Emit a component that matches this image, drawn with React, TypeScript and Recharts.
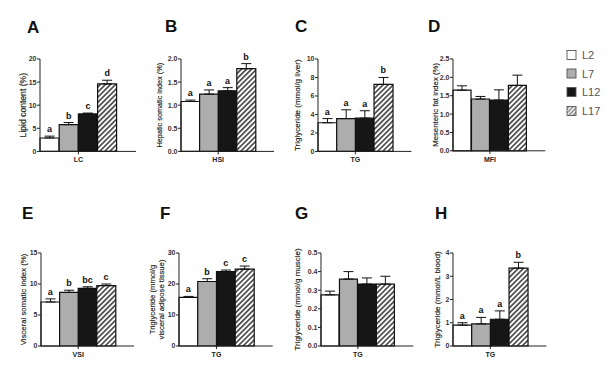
import React from 'react';
import { ComposedChart, Bar, Cell, XAxis, YAxis, ErrorBar, Line, LabelList } from 'recharts';

const FONT = '"Liberation Sans", Arial, Helvetica, sans-serif';

const groups = ['L2', 'L7', 'L12', 'L17'];
const groupColors = ['#ffffff', '#adadad', '#161616', 'hatch'];

// A – lipid content
const lcMeans = [2.9, 5.8, 8.1, 14.6];
const lcErrors = [0.4, 0.45, 0.2, 0.8];
const lcLetters = ['a', 'b', 'c', 'd'];
const lcTicks = [0, 5, 10, 15, 20];

// B – hepatic somatic index
const hsiMeans = [1.08, 1.24, 1.31, 1.79];
const hsiErrors = [0.03, 0.09, 0.07, 0.11];
const hsiLetters = ['a', 'a', 'a', 'b'];
const hsiTicks = [0, 0.5, 1, 1.5, 2];

// C – liver triglyceride
const tgLiverMeans = [3.1, 3.55, 3.6, 7.25];
const tgLiverErrors = [0.45, 0.95, 0.8, 0.75];
const tgLiverLetters = ['a', 'a', 'a', 'b'];
const tgLiverTicks = [0, 2, 4, 6, 8, 10];

// D – mesenteric fat index
const mfiMeans = [1.65, 1.41, 1.38, 1.78];
const mfiErrors = [0.12, 0.07, 0.28, 0.28];
const mfiTicks = [0, 0.5, 1, 1.5, 2, 2.5];

// E – visceral somatic index
const vsiMeans = [7.1, 8.65, 9.3, 9.75];
const vsiErrors = [0.5, 0.35, 0.25, 0.25];
const vsiLetters = ['a', 'b', 'bc', 'c'];
const vsiTicks = [0, 5, 10, 15];

// F – visceral adipose triglyceride
const tgAdiposeMeans = [15.7, 20.8, 24.0, 24.8];
const tgAdiposeErrors = [0.3, 0.9, 0.5, 1.0];
const tgAdiposeLetters = ['a', 'b', 'c', 'c'];
const tgAdiposeTicks = [0, 10, 20, 30];

// G – muscle triglyceride
const tgMuscleMeans = [0.275, 0.36, 0.333, 0.333];
const tgMuscleErrors = [0.02, 0.04, 0.033, 0.042];
const tgMuscleTicks = [0, 0.1, 0.2, 0.3, 0.4, 0.5];

// H – blood triglyceride
const tgBloodMeans = [0.9, 0.95, 1.15, 3.35];
const tgBloodErrors = [0.1, 0.28, 0.36, 0.25];
const tgBloodLetters = ['a', 'a', 'a', 'b'];
const tgBloodTicks = [0, 1, 2, 3, 4];

const legendLabels = ['L2', 'L7', 'L12', 'L17'];

type PanelCfg = {
  id: string;
  letter: string;
  letterX: number;
  letterY: number;
  axisX: number;
  right: number;
  top: number;
  bottom: number;
  labelX: number[];
  labelLines: string[];
  labelSize: number;
  cat: string;
  means: number[];
  errors: number[];
  letters?: string[];
  ticks: number[];
  decimals: number;
};

const panels: PanelCfg[] = [
  { id: 'A', letter: 'A', letterX: 27, letterY: 33, axisX: 40, right: 136, top: 59.3, bottom: 151.7, labelX: [23], labelLines: ['Lipid  content (%)'], labelSize: 8.6, cat: 'LC', means: lcMeans, errors: lcErrors, letters: lcLetters, ticks: lcTicks, decimals: 0 },
  { id: 'B', letter: 'B', letterX: 165, letterY: 32, axisX: 181, right: 274, top: 59.3, bottom: 151.7, labelX: [160], labelLines: ['Hepatic somatic index (%)'], labelSize: 7.3, cat: 'HSI', means: hsiMeans, errors: hsiErrors, letters: hsiLetters, ticks: hsiTicks, decimals: 1 },
  { id: 'C', letter: 'C', letterX: 295, letterY: 32, axisX: 318.3, right: 411.7, top: 59.3, bottom: 151.7, labelX: [298], labelLines: ['Triglyceride (mmol/g liver)'], labelSize: 8, cat: 'TG', means: tgLiverMeans, errors: tgLiverErrors, letters: tgLiverLetters, ticks: tgLiverTicks, decimals: 0 },
  { id: 'D', letter: 'D', letterX: 428, letterY: 32, axisX: 452.7, right: 545, top: 58.5, bottom: 150.3, labelX: [435], labelLines: ['Mesenteric fat index (%)'], labelSize: 7.8, cat: 'MFI', means: mfiMeans, errors: mfiErrors, ticks: mfiTicks, decimals: 1 },
  { id: 'E', letter: 'E', letterX: 22, letterY: 219, axisX: 41, right: 134, top: 252.7, bottom: 345.7, labelX: [23], labelLines: ['Visceral somatic index (%)'], labelSize: 7.8, cat: 'VSI', means: vsiMeans, errors: vsiErrors, letters: vsiLetters, ticks: vsiTicks, decimals: 0 },
  { id: 'F', letter: 'F', letterX: 160, letterY: 219, axisX: 179.3, right: 273, top: 252.7, bottom: 345.7, labelX: [153, 162], labelLines: ['Triglyceride (mmol/g', 'visceral adipose tissue)'], labelSize: 7.7, cat: 'TG', means: tgAdiposeMeans, errors: tgAdiposeErrors, letters: tgAdiposeLetters, ticks: tgAdiposeTicks, decimals: 0 },
  { id: 'G', letter: 'G', letterX: 295, letterY: 219, axisX: 320.7, right: 413, top: 252.7, bottom: 345.7, labelX: [297], labelLines: ['Triglyceride (mmol/g muscle)'], labelSize: 8, cat: 'TG', means: tgMuscleMeans, errors: tgMuscleErrors, ticks: tgMuscleTicks, decimals: 1 },
  { id: 'H', letter: 'H', letterX: 435, letterY: 219, axisX: 453.3, right: 546.7, top: 252.7, bottom: 345.7, labelX: [438], labelLines: ['Triglyceride (mmol/L blood)'], labelSize: 8, cat: 'TG', means: tgBloodMeans, errors: tgBloodErrors, letters: tgBloodLetters, ticks: tgBloodTicks, decimals: 0 },
];

const YW = 38;
const MT = 20;
const MR = 4;
const XH = 16;
const MB = 2;

function CatLabel(props: any) {
  const vb = props.viewBox || {};
  const x0 = vb.x ?? props.fx;
  const w = vb.width ?? props.fw;
  const y0 = vb.y ?? props.fy;
  const cx = x0 + w * 0.4;
  return (
    <g>
      <line x1={cx} x2={cx} y1={y0} y2={y0 + 3} stroke="#222" strokeWidth={1} />
      <text x={cx} y={y0 + 10.8} textAnchor="middle" fontSize={7} fontWeight="bold" fill="#222" fontFamily={FONT}>
        {props.cat}
      </text>
    </g>
  );
}

function YLabel(props: any) {
  const cy = props.cy0;
  const lines: string[] = props.lines;
  const xs: number[] = props.xs;
  return (
    <g>
      {lines.map((t, i) => (
        <text
          key={i}
          x={xs[i]}
          y={cy}
          transform={`rotate(-90 ${xs[i]} ${cy})`}
          textAnchor="middle"
          dominantBaseline="central"
          fontSize={props.fs}
          fill="#1a1a1a"
          stroke="#1a1a1a"
          strokeWidth={0.15}
          fontFamily={FONT}
        >
          {t}
        </text>
      ))}
    </g>
  );
}

function Panel({ cfg }: { cfg: PanelCfg }) {
  const plotW = cfg.right - cfg.axisX;
  const plotH = cfg.bottom - cfg.top;
  const left = cfg.axisX - YW;
  const width = YW + plotW + MR;
  const height = MT + plotH + XH + MB;
  const max = cfg.ticks[cfg.ticks.length - 1];
  const data: any[] = groups.map((g, i) => ({
    name: g,
    value: cfg.means[i],
    err: [0, cfg.errors[i]],
    top: cfg.means[i] + cfg.errors[i],
    sig: cfg.letters ? cfg.letters[i] : undefined,
  }));
  data.push({ name: 'pad' });
  const hatchId = `hatch-${cfg.id}`;
  const xs = cfg.labelX.map((x) => x - left);
  return (
    <div style={{ position: 'absolute', left, top: cfg.top - MT, width, height }}>
      <ComposedChart
        width={width}
        height={height}
        data={data}
        margin={{ top: MT, right: MR, bottom: MB, left: 0 }}
        barCategoryGap={0}
        barGap={0}
      >
        <defs>
          <pattern id={hatchId} patternUnits="userSpaceOnUse" width={3.6} height={3.6} patternTransform="rotate(45)">
            <rect x={0} y={0} width={3.6} height={3.6} fill="#ffffff" />
            <line x1={0.9} y1={0} x2={0.9} y2={3.6} stroke="#111" strokeWidth={1.3} />
          </pattern>
        </defs>
        <XAxis
          dataKey="name"
          tick={false}
          tickLine={false}
          axisLine={{ stroke: '#222', strokeWidth: 1 }}
          height={XH}
          label={<CatLabel cat={cfg.cat} fx={YW} fw={plotW} fy={MT + plotH} />}
        />
        <YAxis
          width={YW}
          domain={[0, max]}
          ticks={cfg.ticks}
          interval={0}
          tickSize={3}
          tickMargin={0.5}
          tickFormatter={(v: number) => v.toFixed(cfg.decimals)}
          tick={{ fontSize: 7, fontWeight: 'bold', fill: '#333', fontFamily: FONT }}
          axisLine={{ stroke: '#222', strokeWidth: 1 }}
          tickLine={{ stroke: '#222', strokeWidth: 1 }}
          label={<YLabel lines={cfg.labelLines} xs={xs} fs={cfg.labelSize} cy0={MT + plotH / 2} />}
        />
        <Bar dataKey="value" isAnimationActive={false} stroke="#111" strokeWidth={1.2}>
          {data.map((d, i) => (
            <Cell
              key={i}
              fill={groupColors[i] === 'hatch' ? `url(#${hatchId})` : groupColors[i] || 'none'}
            />
          ))}
          <ErrorBar dataKey="err" width={5} stroke="#111" strokeWidth={1} direction="y" />
        </Bar>
        <Line
          dataKey="top"
          stroke="none"
          dot={false}
          activeDot={false}
          isAnimationActive={false}
          legendType="none"
        >
          <LabelList dataKey="sig" position="top" offset={4} fontSize={9} fontWeight="bold" fill="#111" fontFamily={FONT} />
        </Line>
      </ComposedChart>
    </div>
  );
}

function Overlay() {
  const rows = [55, 73.5, 92, 111];
  const fills = ['#ffffff', '#adadad', '#161616', 'url(#hatch-legend)'];
  return (
    <svg width={616} height={376} style={{ position: 'absolute', left: 0, top: 0, pointerEvents: 'none' }}>
      <defs>
        <pattern id="hatch-legend" patternUnits="userSpaceOnUse" width={3} height={3} patternTransform="rotate(45)">
          <rect x={0} y={0} width={3} height={3} fill="#ffffff" />
          <line x1={0.8} y1={0} x2={0.8} y2={3} stroke="#555" strokeWidth={1.1} />
        </pattern>
      </defs>
      {panels.map((p) => (
        <text key={p.id} x={p.letterX} y={p.letterY} fontSize={17} fontWeight="bold" fill="#111" fontFamily={FONT}>
          {p.letter}
        </text>
      ))}
      {legendLabels.map((l, i) => (
        <g key={l}>
          <rect x={567} y={rows[i] - 4.5} width={9} height={9} fill={fills[i]} stroke="#555" strokeWidth={0.9} />
          <text x={582} y={rows[i] + 4} fontSize={11} fill="#555" fontFamily={FONT}>
            {l}
          </text>
        </g>
      ))}
    </svg>
  );
}

export default function App() {
  return (
    <div style={{ position: 'absolute', left: 0, top: 0, width: 616, height: 376, background: '#fff', fontFamily: FONT }}>
      {panels.map((p) => (
        <Panel key={p.id} cfg={p} />
      ))}
      <Overlay />
    </div>
  );
}
